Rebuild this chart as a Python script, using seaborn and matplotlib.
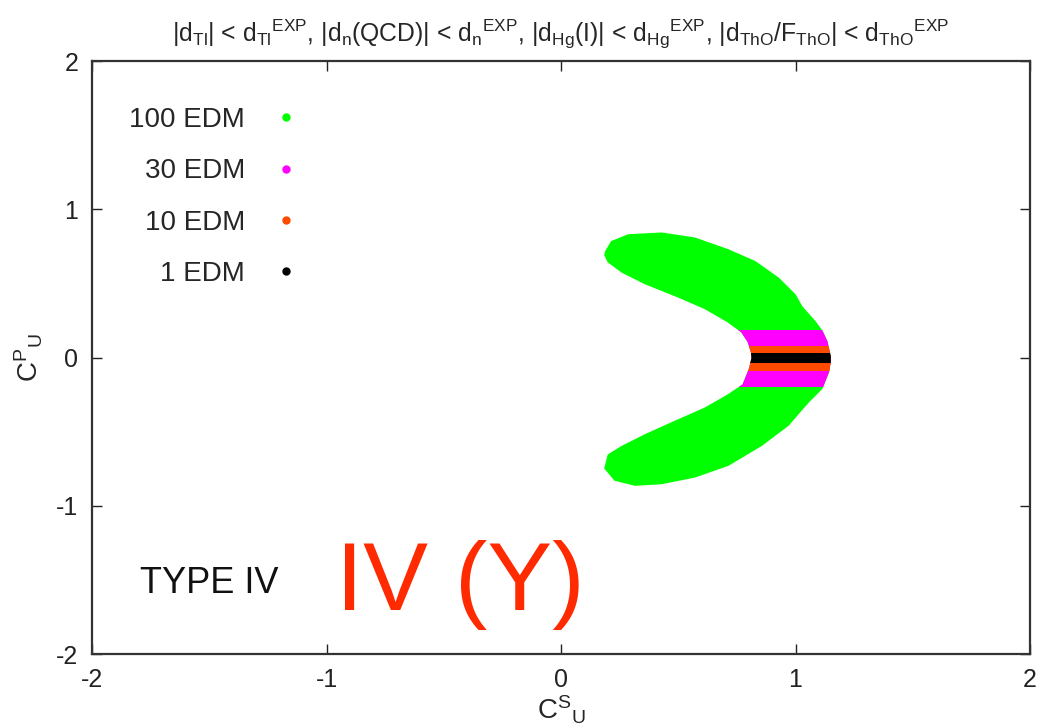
import matplotlib
matplotlib.use("Agg")
import matplotlib.pyplot as plt
from matplotlib.lines import Line2D
from matplotlib.patches import Rectangle
import seaborn as sns

# Allowed region in the (C^S_U, C^P_U) plane: closed outline of the crescent
outline_x = [0.188, 0.191, 0.216, 0.287, 0.429, 0.571, 0.713, 0.827, 0.927, 0.998,
             1.026, 1.083, 1.112, 1.133, 1.147,
             1.147, 1.140, 1.112, 1.055, 1.012, 0.969, 0.856, 0.713, 0.571, 0.429,
             0.316, 0.230, 0.188,
             0.202, 0.259, 0.358, 0.500, 0.614, 0.713, 0.777, 0.806, 0.816,
             0.813, 0.799, 0.771, 0.713, 0.614, 0.500, 0.358, 0.259, 0.202]
outline_y = [0.690, 0.714, 0.781, 0.826, 0.838, 0.804, 0.725, 0.646, 0.534, 0.422,
             0.343, 0.241, 0.179, 0.107, 0.005,
             -0.028, -0.096, -0.208, -0.298, -0.376, -0.455, -0.590, -0.725, -0.804, -0.849,
             -0.860, -0.826, -0.747,
             -0.658, -0.602, -0.523, -0.422, -0.343, -0.253, -0.185, -0.071, -0.003,
             0.039, 0.107, 0.174, 0.241, 0.332, 0.410, 0.500, 0.579, 0.646]

# EDM scenarios: label, colour and the C^P_U band each one allows
scenario_labels = ["100 EDM", "30 EDM", "10 EDM", "1 EDM"]
scenario_colors = ["#00FF00", "#FF00FF", "#FF4A00", "#000000"]
band_lo = [None, -0.196, -0.088, -0.036]
band_hi = [None, 0.186, 0.077, 0.028]

x_ticks = [-2, -1, 0, 1, 2]
y_ticks = [-2, -1, 0, 1, 2]

sns.set_theme(style="ticks")
plt.rcParams["font.family"] = ["Liberation Sans", "DejaVu Sans"]
plt.rcParams["mathtext.fontset"] = "custom"
plt.rcParams["mathtext.rm"] = "Liberation Sans"
plt.rcParams["mathtext.it"] = "Liberation Sans"
plt.rcParams["mathtext.default"] = "regular"
plt.rcParams["axes.unicode_minus"] = False

fig = plt.figure(figsize=(10.46, 7.23), dpi=100)
ax = fig.add_axes([0.0880, 0.0954, 0.8967, 0.8202])
ax.set_xlim(-2, 2)
ax.set_ylim(-2, 2)

for label, color, lo, hi in zip(scenario_labels, scenario_colors, band_lo, band_hi):
    poly = ax.fill(outline_x, outline_y, color=color, lw=1.2, ec=color, zorder=2)[0]
    if lo is not None:
        clip = Rectangle((-2, lo), 4, hi - lo, transform=ax.transData)
        poly.set_clip_path(clip)

handles = [Line2D([], [], ls="", marker="o", ms=5, color=c) for c in scenario_colors]
ax.legend(handles, scenario_labels, loc="upper right", bbox_to_anchor=(0.228, 0.941),
          frameon=False, markerfirst=False, fontsize=20, handlelength=0.6,
          handletextpad=1.2, labelspacing=0.91, borderaxespad=0)

ax.set_xticks(x_ticks)
ax.set_yticks(y_ticks)
ax.tick_params(direction="in", length=7, width=1, colors="#222222", labelsize=18,
               top=True, right=True, pad=10)
for s in ax.spines.values():
    s.set_linewidth(1.6)
    s.set_color("#333333")
    s.set_visible(True)

ax.set_title(r"$|d_{Tl}|$ < ${d_{Tl}}^{EXP}$, $|d_{n}(QCD)|$ < ${d_{n}}^{EXP}$, "
             r"$|d_{Hg}(I)|$ < ${d_{Hg}}^{EXP}$, $|d_{ThO}/F_{ThO}|$ < ${d_{ThO}}^{EXP}$",
             fontsize=17.8, pad=14)
ax.set_xlabel(r"${C^{S}}_{U}$", fontsize=20, labelpad=1)
ax.set_ylabel(r"${C^{P}}_{U}$", fontsize=20, labelpad=8)

ax.text(-1.795, -1.59, "TYPE IV", fontsize=26, color="#111111", ha="left", va="baseline")
ax.text(-0.96, -1.70, "IV (Y)", fontsize=70, color="#FF2A00", ha="left", va="baseline")

fig.savefig("out.png", dpi=100)
